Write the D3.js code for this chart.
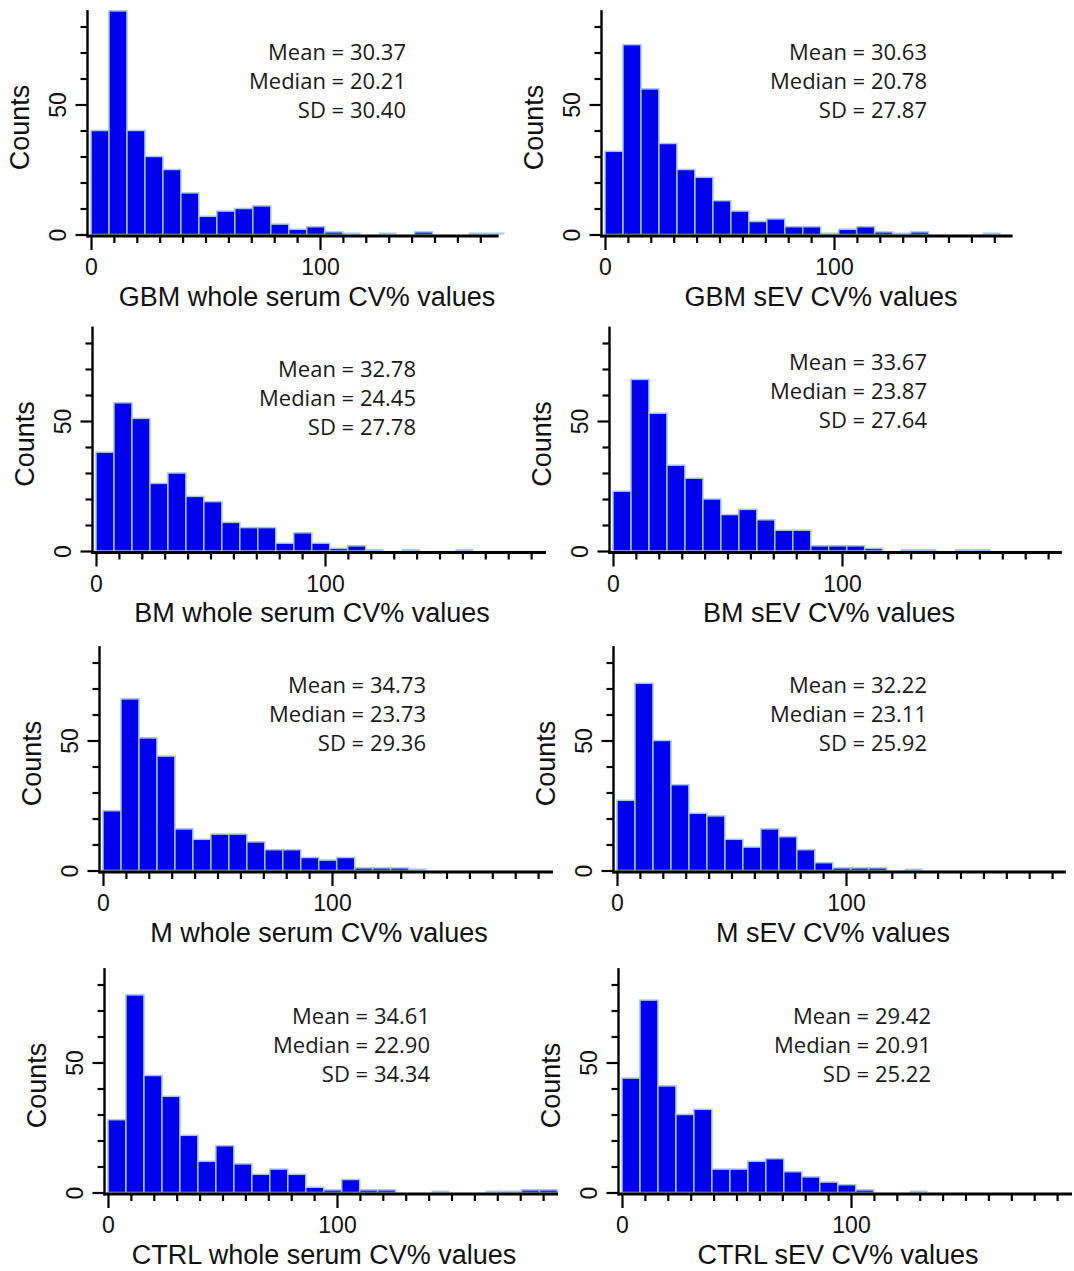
<!DOCTYPE html>
<html>
<head>
<meta charset="utf-8">
<script src="https://cdn.jsdelivr.net/npm/d3@7"></script>
<style>
  body { margin: 0; background: #fff; }
</style>
</head>
<body>
<div id="chart"></div>
<script>
// histogram counts per bin (bin width ~7.85 CV%); null = no bar drawn, 0 = empty bin outline
const gbmWhole = [40, 86, 40, 30, 25, 16, 7, 9, 10, 11, 4, 2, 3, 1, 0, null, 0, null, 1, null, null, 0, 0];
const gbmSev   = [32, 73, 56, 35, 25, 22, 13, 9, 5, 6, 3, 3, 0, 2, 3, 1, 0, 1, null, null, null, 0];
const bmWhole  = [38, 57, 51, 26, 30, 21, 19, 11, 9, 9, 3, 7, 3, 1, 2, 0, null, 0, null, null, 0];
const bmSev    = [23, 66, 53, 33, 28, 20, 14, 16, 12, 8, 8, 2, 2, 2, 1, null, 0, 0, null, 0, 0];
const mWhole   = [23, 66, 51, 44, 16, 12, 14, 14, 11, 8, 8, 5, 4, 5, 1, 1, 1, 0];
const mSev     = [27, 72, 50, 33, 22, 21, 12, 9, 16, 13, 8, 3, 1, 1, 1, null, 0];
const ctrlWhole = [28, 76, 45, 37, 22, 12, 18, 11, 7, 9, 7, 2, 1, 5, 1, 1, null, null, 0, null, null, 0, 0, 1, 1];
const ctrlSev  = [44, 74, 41, 30, 32, 9, 9, 12, 13, 8, 6, 4, 3, 1, null, null, 0];

const binWidth = 7.85;

const xTitles = [
  "GBM whole serum CV% values", "GBM sEV CV% values",
  "BM whole serum CV% values", "BM sEV CV% values",
  "M whole serum CV% values", "M sEV CV% values",
  "CTRL whole serum CV% values", "CTRL sEV CV% values"
];
const means   = [30.37, 30.63, 32.78, 33.67, 34.73, 32.22, 34.61, 29.42];
const medians = [20.21, 20.78, 24.45, 23.87, 23.73, 23.11, 22.90, 20.91];
const sds     = [30.40, 27.87, 27.78, 27.64, 29.36, 25.92, 34.34, 25.22];

const yTickStep = 10;
const yLabelTicks = [0, 50];
const xLabelTicks = [0, 100];
const yTitle = "Counts";

const series = [gbmWhole, gbmSev, bmWhole, bmSev, mWhole, mSev, ctrlWhole, ctrlSev];

// layout (pixel placement of each panel)
const layout = [
  { x0: 91,  y0: 234.5,  xMax: 178,   statX: 406, statY: 52 },
  { x0: 605, y0: 234.5,  xMax: 178,   statX: 927, statY: 52 },
  { x0: 96,  y0: 551,    xMax: 196.5, statX: 416, statY: 369 },
  { x0: 613, y0: 551,    xMax: 196,   statX: 927, statY: 362 },
  { x0: 103, y0: 870.5,  xMax: 196.5, statX: 426, statY: 685 },
  { x0: 617, y0: 870.5,  xMax: 196,   statX: 927, statY: 685 },
  { x0: 108, y0: 1192.5, xMax: 196.5, statX: 430, statY: 1016 },
  { x0: 622, y0: 1192.5, xMax: 196.5, statX: 931, statY: 1016 }
];
const pxPerUnit = 2.29;
const pxPerCount = 2.6;
const yTop = 86.3;

const barFill = "#0000ef";
const barEdge = "#a3c6ea";
const axisFont = "'Liberation Sans', Arial, Helvetica, sans-serif";
const statFont = "'Open Sans', 'Noto Sans', sans-serif";

const svg = d3.select("#chart").append("svg")
  .attr("width", 1074)
  .attr("height", 1271)
  .style("background", "#fff");

layout.forEach((p, i) => {
  const counts = series[i];
  const x = d3.scaleLinear()
    .domain([0, p.xMax])
    .range([p.x0, p.x0 + p.xMax * pxPerUnit]);
  const y = d3.scaleLinear()
    .domain([0, yTop])
    .range([p.y0, p.y0 - yTop * pxPerCount]);
  const yAxisX = p.x0 - 3.5;

  const g = svg.append("g");

  const bins = counts
    .map((c, k) => ({ c: c, a: k * binWidth, b: (k + 1) * binWidth }))
    .filter(d => d.c !== null);

  // bars
  g.selectAll("rect.bar")
    .data(bins.filter(d => d.c > 0))
    .join("rect")
    .attr("class", "bar")
    .attr("x", d => x(d.a))
    .attr("width", d => x(d.b) - x(d.a))
    .attr("y", d => y(d.c))
    .attr("height", d => y(0) - y(d.c))
    .attr("fill", barFill)
    .attr("stroke", barEdge)
    .attr("stroke-width", 1.5);

  // empty bins only show their outline on the baseline
  g.selectAll("line.empty")
    .data(bins.filter(d => d.c === 0))
    .join("line")
    .attr("class", "empty")
    .attr("x1", d => x(d.a))
    .attr("x2", d => x(d.b))
    .attr("y1", y(0) - 1)
    .attr("y2", y(0) - 1)
    .attr("stroke", barEdge)
    .attr("stroke-width", 2);

  // x axis
  const xAxis = d3.axisBottom(x)
    .tickValues(d3.range(0, p.xMax, 10))
    .tickSize(7)
    .tickFormat(d => xLabelTicks.includes(d) ? d : "");
  const gx = g.append("g")
    .attr("transform", "translate(0," + (p.y0 + 1.5) + ")")
    .call(xAxis);
  gx.select(".domain").remove();
  gx.selectAll(".tick line")
    .attr("y2", d => xLabelTicks.includes(d) ? 14 : 7)
    .attr("stroke", "#000")
    .attr("stroke-width", 2.2);
  gx.selectAll(".tick text")
    .attr("y", 39)
    .attr("dy", null)
    .attr("fill", "#111")
    .style("font-family", axisFont)
    .style("font-size", "23px");
  g.append("line")
    .attr("x1", yAxisX - 1)
    .attr("x2", x(p.xMax))
    .attr("y1", p.y0 + 1.5)
    .attr("y2", p.y0 + 1.5)
    .attr("stroke", "#000")
    .attr("stroke-width", 3);

  // y axis
  const yAxis = d3.axisLeft(y)
    .tickValues(d3.range(0, yTop, yTickStep))
    .tickSize(7)
    .tickFormat(d => yLabelTicks.includes(d) ? d : "");
  const gy = g.append("g")
    .attr("transform", "translate(" + yAxisX + ",0)")
    .call(yAxis);
  gy.select(".domain").remove();
  gy.selectAll(".tick line")
    .attr("x2", d => yLabelTicks.includes(d) ? -12 : -7)
    .attr("stroke", "#000")
    .attr("stroke-width", 2.2);
  gy.selectAll(".tick text")
    .attr("x", null)
    .attr("dy", null)
    .attr("text-anchor", "middle")
    .attr("transform", "translate(-21.5,0) rotate(-90)")
    .attr("fill", "#111")
    .style("font-family", axisFont)
    .style("font-size", "23px");
  g.append("line")
    .attr("x1", yAxisX)
    .attr("x2", yAxisX)
    .attr("y1", y(yTop))
    .attr("y2", p.y0 + 3)
    .attr("stroke", "#000")
    .attr("stroke-width", 2.4);

  // axis titles
  g.append("text")
    .attr("x", p.x0 + 216)
    .attr("y", p.y0 + 71)
    .attr("text-anchor", "middle")
    .attr("fill", "#111")
    .style("font-family", axisFont)
    .style("font-size", "27px")
    .text(xTitles[i]);

  g.append("text")
    .attr("transform", "translate(" + (yAxisX - 59) + "," + (p.y0 - 107) + ") rotate(-90)")
    .attr("text-anchor", "middle")
    .attr("fill", "#111")
    .style("font-family", axisFont)
    .style("font-size", "27px")
    .text(yTitle);

  // summary statistics
  const lines = [
    "Mean = " + means[i].toFixed(2),
    "Median = " + medians[i].toFixed(2),
    "SD = " + sds[i].toFixed(2)
  ];
  g.selectAll("text.stat")
    .data(lines)
    .join("text")
    .attr("class", "stat")
    .attr("x", p.statX)
    .attr("y", (d, k) => p.statY + 8 + k * 29)
    .attr("text-anchor", "end")
    .attr("fill", "#1a1a1a")
    .style("font-family", statFont)
    .style("font-size", "22px")
    .text(d => d);
});
</script>
</body>
</html>
